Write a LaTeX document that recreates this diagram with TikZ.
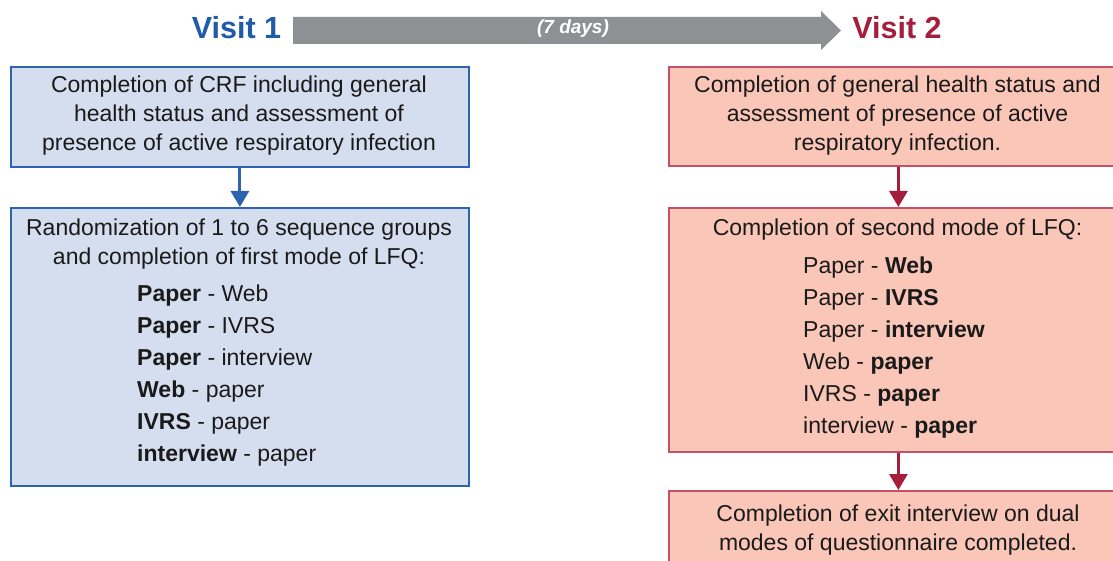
\documentclass[tikz,border=0pt]{standalone}
\usepackage{fontspec}
\setmainfont{Liberation Sans}
\usetikzlibrary{arrows.meta}
\definecolor{vblue}{HTML}{1F5BA8}
\definecolor{bfill}{HTML}{D5DEEF}
\definecolor{bborder}{HTML}{2D63AF}
\definecolor{vred}{HTML}{A51F3C}
\definecolor{rfill}{HTML}{F9C6B8}
\definecolor{rborder}{HTML}{C5506A}
\definecolor{vgray}{HTML}{8F9094}
\definecolor{txtcol}{HTML}{1A1A1A}
\newcommand\txtfont{\fontsize{23}{29}\selectfont}
\newcommand\lstfont{\fontsize{23}{32}\selectfont}
\newcommand\visfont{\fontsize{30.5}{34}\selectfont\bfseries}
\begin{document}
\begin{tikzpicture}[x=1pt,y=-1pt,
  bluebox/.style={draw=bborder, fill=bfill, line width=1.8pt, inner sep=0pt, minimum width=458pt, anchor=north west},
  redbox/.style={draw=rborder, fill=rfill, line width=1.8pt, inner sep=0pt, minimum width=459pt, anchor=north west},
  txt/.style={align=center, inner sep=0pt, font=\txtfont, text=txtcol},
  lst/.style={align=left, inner sep=0pt, font=\lstfont, text=txtcol, anchor=base west},
  bluearrow/.style={draw=bborder, line width=3pt, -{Triangle[width=18pt,length=16pt]}},
  redarrow/.style={draw=vred, line width=3pt, -{Triangle[width=18pt,length=16pt]}},
  visit/.style={inner sep=0pt, anchor=base, font=\visfont}]
\useasboundingbox (0,0) rectangle (1113,561);
\clip (0,0) rectangle (1113,561);
% header
\node[visit, text=vblue] (v1) at (236.5,39) {Visit 1};
\node[visit, text=vred] (v2) at (897,39) {Visit 2};
\fill[vgray] (293,17) -- (821,17) -- (821,11) -- (841,30.5) -- (821,50) -- (821,44) -- (293,44) -- cycle;
\node[inner sep=0pt, anchor=base, text=white, font=\fontsize{19}{22}\selectfont\bfseries\itshape] (days) at (573,34) {(7 days)};
% left column
\node[bluebox, minimum height=100pt] (b1) at (10,66) {};
\node[bluebox, minimum height=278pt] (b2) at (10,207) {};
\draw[bluearrow] (b1.south) -- (b2.north);
\node[txt, anchor=base] (t1) at (239,151) {Completion of CRF including general\\health status and assessment of\\presence of active respiratory infection};
\node[txt, anchor=base] (t2) at (239,265) {Randomization of 1 to 6 sequence groups\\and completion of first mode of LFQ:};
\node[lst] (l1) at (137,461) {\textbf{Paper} - Web\\\textbf{Paper} - IVRS\\\textbf{Paper} - interview\\\textbf{Web} - paper\\\textbf{IVRS} - paper\\\textbf{interview} - paper};
% right column
\node[redbox, minimum height=99pt] (r1) at (668,66) {};
\node[redbox, minimum height=244pt] (r2) at (668,207) {};
\node[redbox, minimum height=90pt] (r3) at (668,490) {};
\draw[redarrow] (r1.south) -- (r2.north);
\draw[redarrow] (r2.south) -- (r3.north);
\node[txt, anchor=base] (s1) at (897.5,151) {Completion of general health status and\\assessment of presence of active\\respiratory infection.};
\node[txt, anchor=base] (s2) at (897.5,236) {Completion of second mode of LFQ:};
\node[lst] (m1) at (803,433) {Paper - \textbf{Web}\\Paper - \textbf{IVRS}\\Paper - \textbf{interview}\\Web - \textbf{paper}\\IVRS - \textbf{paper}\\interview - \textbf{paper}};
\node[txt, anchor=base] (s3) at (898,550) {Completion of exit interview on dual\\modes of questionnaire completed.};
\end{tikzpicture}
\end{document}
